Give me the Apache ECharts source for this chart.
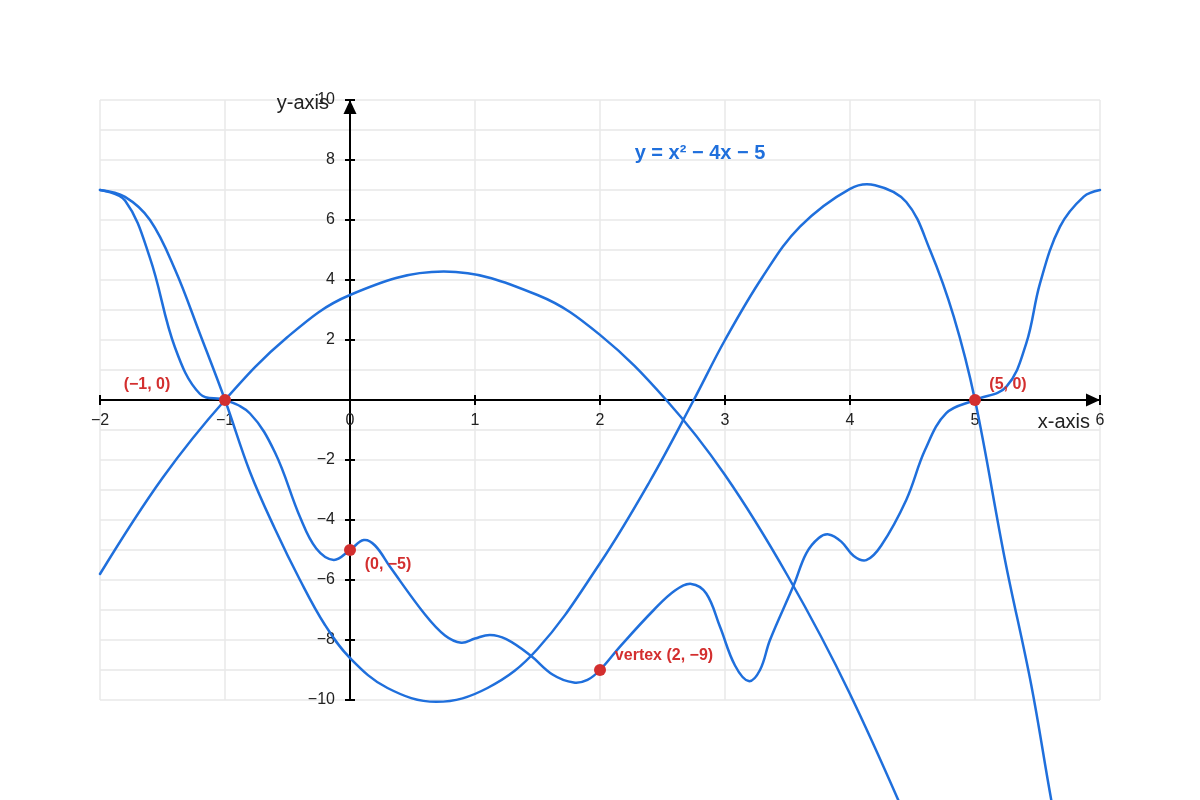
<!DOCTYPE html>
<html>
<head>
<meta charset="utf-8">
<script src="https://cdn.jsdelivr.net/npm/echarts@6/dist/echarts.min.js"></script>
<style>
html, body { margin: 0; padding: 0; background: #ffffff; }
#chart { width: 1200px; height: 800px; }
</style>
</head>
<body>
<div id="chart"></div>
<script>
// ---------- data ----------
const xRange = [-2, 6];
const yRange = [-10, 10];
const titleText = 'y = x\u00b2 \u2212 4x \u2212 5';

// wavy curve through the marked points
const curveWavy = [
  [-2, 7], [-1.8, 6.65], [-1.6, 4.73], [-1.4, 1.75], [-1.2, 0.2], [-1, 0],
  [-0.8, -0.45], [-0.6, -1.75], [-0.4, -3.9], [-0.27, -4.95], [-0.13, -5.33], [0, -5],
  [0.11, -4.67], [0.2, -4.85], [0.32, -5.56], [0.6, -7.15], [0.76, -7.85], [0.89, -8.09],
  [1.0, -7.95], [1.12, -7.83], [1.25, -7.97], [1.44, -8.5], [1.62, -9.15], [1.79, -9.42],
  [1.9, -9.33], [2, -9], [2.16, -8.22], [2.43, -7.0], [2.6, -6.35], [2.73, -6.13],
  [2.85, -6.45], [2.96, -7.56], [3.08, -8.85], [3.19, -9.37], [3.28, -9.0], [3.36, -8.0],
  [3.55, -6.17], [3.65, -5.11], [3.75, -4.6], [3.83, -4.48], [3.93, -4.72], [4.03, -5.2],
  [4.13, -5.34], [4.25, -4.85], [4.45, -3.33], [4.6, -1.67], [4.77, -0.44], [5, 0],
  [5.25, 0.44], [5.41, 1.89], [5.52, 3.89], [5.68, 5.78], [5.87, 6.78], [6, 7]
];

// U-shaped curve that turns back down after x = 4
const curveU = [
  [-2, 7], [-1.8, 6.77], [-1.6, 6.0], [-1.4, 4.35], [-1.2, 2.2], [-1, 0],
  [-0.8, -2.4], [-0.6, -4.3], [-0.4, -6.0], [-0.2, -7.5], [0, -8.6], [0.3, -9.6],
  [0.69, -10.06], [1.1, -9.6], [1.5, -8.3], [2, -5.44], [2.4, -2.7], [2.75, 0],
  [3, 2], [3.3, 4.1], [3.6, 5.78], [4, 7.04], [4.2, 7.16], [4.45, 6.6], [4.64, 5.0],
  [4.83, 2.78], [5, 0], [5.24, -5.33], [5.45, -9.5], [5.61, -13.33], [5.8, -17.5]
];

// arch-shaped curve
const curveArch = [
  [-2, -5.8], [-1.5, -2.6], [-1, 0], [-0.5, 2.1], [0, 3.5], [0.75, 4.28],
  [1.5, 3.5], [2, 2.17], [2.53, 0], [3, -2.5], [3.5, -5.85], [4, -9.8], [4.6, -15.4]
];

// marked points and their labels
const keyPoints = [[-1, 0], [0, -5], [2, -9], [5, 0]];
const keyLabels = ['(\u22121, 0)', '(0, \u22125)', 'vertex (2, \u22129)', '(5, 0)'];

// ---------- styling ----------
const FONT = '"Liberation Sans", Arial, Helvetica, sans-serif';
const BLUE = '#1f6fdc';
const RED = '#d32f2f';
const GRID_COLOR = '#e8e8e8';
const labelOffsets = [[-78, -15], [38, 15], [64, -14], [33, -15]];
const GRID = { left: 100, right: 100, top: 100, bottom: 100, width: 1000, height: 600 };

function fmt(v) { return v < 0 ? '\u2212' + Math.abs(v) : String(v); }

// pixel offset that puts an axis on the other axis' zero
const zeroX = GRID.left + GRID.width * (0 - xRange[0]) / (xRange[1] - xRange[0]);
const zeroY = GRID.top + GRID.height * (yRange[1] - 0) / (yRange[1] - yRange[0]);

const axisLineStyle = { color: '#000', width: 2 };
const tickStyle = { show: true, inside: false, length: 5, lineStyle: { color: '#000', width: 2 } };

// each curve: a custom series whose points are mapped through the chart's own axes (api.coord)
function curveSeries(data) {
  return {
    type: 'custom', coordinateSystem: 'cartesian2d', data: data,
    encode: { x: 0, y: 1 }, silent: true, z: 3, clip: false,
    renderItem: function (params, api) {
      if (params.dataIndex !== 0) return null;
      const pts = data.map(function (p) { return api.coord(p); });
      return {
        type: 'polyline',
        shape: { points: pts, smooth: 0.38 },
        style: { stroke: BLUE, lineWidth: 2.5, fill: null, lineJoin: 'round', lineCap: 'round' }
      };
    }
  };
}

const chart = echarts.init(document.getElementById('chart'), null, { renderer: 'canvas' });
chart.setOption({
  animation: false,
  backgroundColor: '#ffffff',
  title: {
    text: titleText, left: 700, top: 153, textAlign: 'center', textVerticalAlign: 'middle', padding: 0,
    textStyle: { color: BLUE, fontSize: 20, fontWeight: 'bold', fontFamily: FONT }
  },
  grid: { left: GRID.left, right: GRID.right, top: GRID.top, bottom: GRID.bottom, containLabel: false, outerBoundsMode: 'none' },
  xAxis: [
    {
      type: 'value', min: xRange[0], max: xRange[1], interval: 1, position: 'bottom',
      offset: zeroY - (GRID.top + GRID.height),
      axisLine: { show: true, onZero: false, symbol: ['none', 'triangle'],
        symbolSize: [13, 14], symbolOffset: [0, -7], lineStyle: axisLineStyle },
      axisTick: tickStyle,
      axisLabel: { show: true, margin: 13, color: '#222', fontSize: 16, fontFamily: FONT, formatter: fmt },
      splitLine: { show: true, lineStyle: { color: GRID_COLOR, width: 1.5 } },
      name: 'x-axis', nameLocation: 'end', nameGap: -10, nameMoveOverlap: false,
      nameTextStyle: { color: '#222', fontSize: 20, fontFamily: FONT, align: 'right', verticalAlign: 'top', padding: [12, 0, 0, 0] }
    },
    {
      type: 'value', min: xRange[0], max: xRange[1], interval: 1, position: 'top',
      offset: GRID.top - zeroY,
      axisLine: { show: false, onZero: false },
      axisTick: tickStyle,
      axisLabel: { show: false },
      splitLine: { show: false }
    }
  ],
  yAxis: [
    {
      type: 'value', min: yRange[0], max: yRange[1], interval: 2, position: 'left',
      offset: GRID.left - zeroX,
      axisLine: { show: true, onZero: false, symbol: ['none', 'triangle'],
        symbolSize: [13, 14], symbolOffset: [0, -7], lineStyle: axisLineStyle },
      axisTick: tickStyle,
      axisLabel: { show: true, margin: 15, color: '#222', fontSize: 16, fontFamily: FONT,
        formatter: function (v) { return v === 0 ? '' : fmt(v); } },
      splitLine: { show: true, lineStyle: { color: GRID_COLOR, width: 1.5 } },
      minorTick: { show: false, splitNumber: 2 },
      minorSplitLine: { show: true, lineStyle: { color: GRID_COLOR, width: 1.5 } },
      name: 'y-axis', nameLocation: 'end', nameGap: -3, nameMoveOverlap: false,
      nameTextStyle: { color: '#222', fontSize: 20, fontFamily: FONT, align: 'right', verticalAlign: 'middle', padding: [0, 21, 0, 0] }
    },
    {
      type: 'value', min: yRange[0], max: yRange[1], interval: 2, position: 'right',
      offset: zeroX - (GRID.left + GRID.width),
      axisLine: { show: false, onZero: false },
      axisTick: tickStyle,
      axisLabel: { show: false },
      splitLine: { show: false }
    }
  ],
  series: [
    curveSeries(curveWavy),
    curveSeries(curveU),
    curveSeries(curveArch),
    {
      type: 'scatter', z: 10, symbolSize: 12, silent: true,
      itemStyle: { color: RED, opacity: 1 },
      data: keyPoints.map(function (p, i) {
        return { value: p, label: { offset: labelOffsets[i] } };
      }),
      label: {
        show: true, position: 'inside', align: 'center', verticalAlign: 'middle',
        color: RED, fontSize: 16, fontWeight: 'bold', fontFamily: FONT,
        formatter: function (p) { return keyLabels[p.dataIndex]; }
      }
    }
  ]
});
</script>
</body>
</html>
